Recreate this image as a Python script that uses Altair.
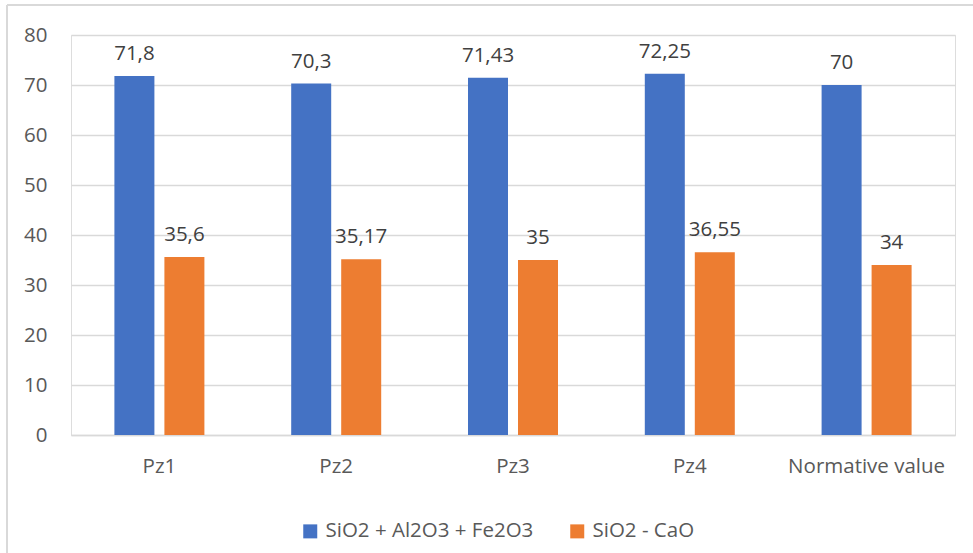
import altair as alt
import pandas as pd

# Sample categories and the two oxide sums for each
categories = ["Pz1", "Pz2", "Pz3", "Pz4", "Normative value"]
series_names = ["SiO2 + Al2O3 + Fe2O3", "SiO2 - CaO"]
sum_oxides = [71.8, 70.3, 71.43, 72.25, 70]
sio2_minus_cao = [35.6, 35.17, 35, 36.55, 34]
colors = ["#4472C4", "#ED7D31"]

rows = []
for cat, a, b in zip(categories, sum_oxides, sio2_minus_cao):
    rows.append({"category": cat, "series": series_names[0], "value": a})
    rows.append({"category": cat, "series": series_names[1], "value": b})
df = pd.DataFrame(rows)

FONT = "Open Sans"
GREY = "#595959"
FS = 20.5

x_enc = alt.X(
    "category:N",
    sort=categories,
    title=None,
    scale=alt.Scale(paddingInner=0, paddingOuter=0),
    axis=alt.Axis(
        labelAngle=0,
        ticks=False,
        domainColor="#D9D9D9",
        domainWidth=1.5,
        labelColor=GREY,
        labelFontSize=FS,
        labelFont=FONT,
        labelPadding=21,
        grid=False,
    ),
)
xoff = alt.XOffset(
    "series:N",
    sort=series_names,
    scale=alt.Scale(paddingInner=0.2, paddingOuter=0.868),
)
y_enc = alt.Y(
    "value:Q",
    title=None,
    scale=alt.Scale(domain=[0, 80], nice=False),
    axis=alt.Axis(
        values=list(range(0, 90, 10)),
        ticks=False,
        domain=False,
        gridColor="#D9D9D9",
        gridWidth=1.5,
        labelColor=GREY,
        labelFontSize=FS,
        labelFont=FONT,
        labelPadding=24,
    ),
)

base = alt.Chart(df)

bars = base.mark_bar().encode(
    x=x_enc,
    xOffset=xoff,
    y=y_enc,
    color=alt.Color(
        "series:N",
        sort=series_names,
        scale=alt.Scale(domain=series_names, range=colors),
        legend=alt.Legend(
            title=None,
            orient="none",
            direction="horizontal",
            legendX=229,
            legendY=486,
            symbolType="square",
            symbolSize=196,
            symbolStrokeWidth=0,
            labelFont=FONT,
            labelFontSize=FS,
            labelColor=GREY,
            labelOffset=5,
            labelLimit=0,
            columnPadding=33,
            padding=0,
        ),
    ),
)

labels = base.transform_calculate(
    label="replace(toString(datum.value), '.', ',')"
).mark_text(
    baseline="alphabetic", dy=-16, font=FONT, fontSize=FS, color="#404040"
).encode(
    x=alt.X("category:N", sort=categories),
    xOffset=alt.XOffset("series:N", sort=series_names),
    y="value:Q",
    text="label:N",
)

# Outer frame (left and top edges) around the whole figure
frame_left = base.mark_rule(color="#D9D9D9", strokeWidth=2).encode(
    x=alt.value(-64), y=alt.value(-30), y2=alt.value(600)
)
frame_top = base.mark_rule(color="#D9D9D9", strokeWidth=2).encode(
    x=alt.value(-64), x2=alt.value(1000), y=alt.value(-30)
)

chart = (
    alt.layer(frame_left, frame_top, bars, labels)
    .properties(
        width=884,
        height=400,
        autosize=alt.AutoSizeParams(type="none"),
        padding={"left": 71, "top": 35, "right": 18, "bottom": 118},
    )
    .configure_view(stroke=None)
    .configure(background="white")
)

chart.save("out.html", embed_options={"renderer": "svg", "actions": False})
